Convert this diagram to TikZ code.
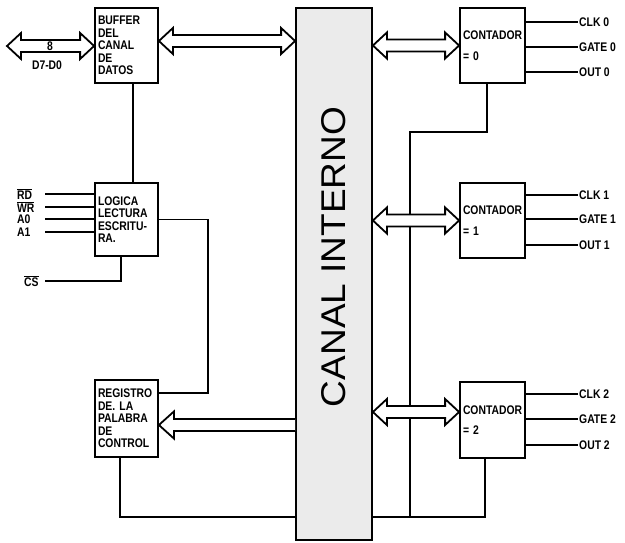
\documentclass[tikz,border=0pt]{standalone}
\usepackage{fontspec}
\setmainfont{Liberation Sans}
\newfontfamily\plotfont[FakeStretch=0.83]{Liberation Sans}
\newfontfamily\busfont{Liberation Sans}
\usetikzlibrary{calc}
\tikzset{
  blk/.style={draw, line width=1.8pt, minimum height=75pt, inner sep=3pt,
    text width=57pt, align=left,
    font=\plotfont\bfseries\fontsize{12.5}{12.5}\selectfont},
  cnt/.style={blk, text width=59pt},
  wire/.style={line width=1.8pt},
  fat/.style={line width=1.8pt, fill=white, line join=miter},
  lbl/.style={font=\plotfont\bfseries\fontsize{12.5}{12.5}\selectfont, inner sep=1pt},
}
\newcommand{\fatdbl}[2]{%
  \draw[fat] (#1) -- ++(14,-13) -- ++(0,7) -- ($(#2)+(-14,-6)$) -- ++(0,-7) -- (#2)
    -- ++(-14,13) -- ++(0,-7) -- ($(#1)+(14,6)$) -- ++(0,7) -- cycle;}
\begin{document}
\begin{tikzpicture}[x=1pt,y=-1pt]
\fill[white] (0,0) rectangle (625,543);
\useasboundingbox (0,0) rectangle (625,543);

% internal bus
\node[draw, line width=1.8pt, fill=black!8, minimum width=76pt, minimum height=532pt, inner sep=0pt] (bus) at (334,274) {};
\node[rotate=90, inner sep=0pt] (bustext) at (334,257) {\resizebox{300pt}{24pt}{\busfont CANAL INTERNO}};

% blocks
\node[blk] (buf) at (126.5,45.5) {BUFFER\\DEL\\CANAL\\DE\\DATOS};
\node[blk, minimum height=73pt] (logic) at (126.5,219.5) {LOGICA\\LECTURA\\ESCRITU-\\RA.};
\node[blk, minimum height=77pt] (reg) at (126.5,418.5) {REGISTRO\\DE. LA\\PALABRA\\DE\\CONTROL};
\node[cnt] (c0) at (492.5,45.5) {CONTADOR\\[8pt]= 0};
\node[cnt] (c1) at (492.5,220.5) {CONTADOR\\[8pt]= 1};
\node[cnt, minimum height=76pt] (c2) at (492.5,420) {CONTADOR\\[8pt]= 2};

% helper coordinates
\coordinate (y41) at (0,41);
\coordinate (y412) at (0,412);
\coordinate (y425) at (0,425);
\coordinate (y517) at (0,517);
\coordinate (lr) at (208,0);
\coordinate (rv) at (410,132);

% input signals
\node[lbl, anchor=west] (rd) at (16,194) {$\overline{\mbox{RD}}$};
\node[lbl, anchor=west] (wr) at (16,207) {$\overline{\mbox{WR}}$};
\node[lbl, anchor=west] (a0) at (16,219) {A0};
\node[lbl, anchor=west] (a1) at (16,232) {A1};
\node[lbl, anchor=west] (cs) at (23,281) {$\overline{\mbox{CS}}$};
\coordinate (rdi) at (45,194);
\coordinate (wri) at (45,207);
\coordinate (a0i) at (45,219);
\coordinate (a1i) at (45,232);
\coordinate (csi) at (45,281);
\draw[wire] (rdi) -- (rdi -| logic.west);
\draw[wire] (wri) -- (wri -| logic.west);
\draw[wire] (a0i) -- (a0i -| logic.west);
\draw[wire] (a1i) -- (a1i -| logic.west);
\draw[wire] (csi) -| ([xshift=-5.5pt]logic.south);

% internal wiring
\draw[wire] ([xshift=6.5pt]buf.south) -- ([xshift=6.5pt]logic.north);
\draw[wire] (logic.east) -- (logic.east -| lr) |- ([yshift=25.5pt]reg.east);
\draw[wire] ([xshift=-6.5pt]reg.south) |- (bus.west |- y517);
\draw[wire] ([xshift=-5.5pt]c0.south) |- (rv) -- (rv |- y517);
\draw[wire] (bus.east |- y517) -| ([xshift=-7.5pt]c2.south);

% data bus arrows
\coordinate (dl) at (7,46);
\coordinate (dr) at (buf.west |- dl);
\fatdbl{dl}{dr}
\node[lbl] (n8) at (50,46) {8};
\node[lbl] (dbus) at (47,65) {D7-D0};

\coordinate (ba) at (buf.east |- y41);
\coordinate (bb) at (bus.west |- y41);
\fatdbl{ba}{bb}

\coordinate (k0) at (bus.east |- c0.west);
\fatdbl{k0}{c0.west}
\coordinate (k1) at (bus.east |- c1.west);
\fatdbl{k1}{c1.west}
\coordinate (k2a) at (bus.east |- y412);
\coordinate (k2b) at (c2.west |- y412);
\fatdbl{k2a}{k2b}

% bus to control register
\coordinate (rt) at (reg.east |- y425);
\coordinate (rb) at (bus.west |- y425);
\draw[fat] ($(rb)+(0,-6)$) -- ($(rt)+(15,-6)$) -- ($(rt)+(15,-13.5)$) -- (rt)
  -- ($(rt)+(15,13.5)$) -- ($(rt)+(15,6)$) -- ($(rb)+(0,6)$);

% counter outputs
\node[lbl, anchor=west] (clk0) at (578,22) {CLK 0};
\node[lbl, anchor=west] (gate0) at (578,47) {GATE 0};
\node[lbl, anchor=west] (out0) at (578,72) {OUT 0};
\node[lbl, anchor=west] (clk1) at (578,195) {CLK 1};
\node[lbl, anchor=west] (gate1) at (578,219) {GATE 1};
\node[lbl, anchor=west] (out1) at (578,245) {OUT 1};
\node[lbl, anchor=west] (clk2) at (578,394) {CLK 2};
\node[lbl, anchor=west] (gate2) at (578,419) {GATE 2};
\node[lbl, anchor=west] (out2) at (578,445) {OUT 2};
\draw[wire] (c0.east |- clk0) -- (clk0.west);
\draw[wire] (c0.east |- gate0) -- (gate0.west);
\draw[wire] (c0.east |- out0) -- (out0.west);
\draw[wire] (c1.east |- clk1) -- (clk1.west);
\draw[wire] (c1.east |- gate1) -- (gate1.west);
\draw[wire] (c1.east |- out1) -- (out1.west);
\draw[wire] (c2.east |- clk2) -- (clk2.west);
\draw[wire] (c2.east |- gate2) -- (gate2.west);
\draw[wire] (c2.east |- out2) -- (out2.west);
\end{tikzpicture}
\end{document}
